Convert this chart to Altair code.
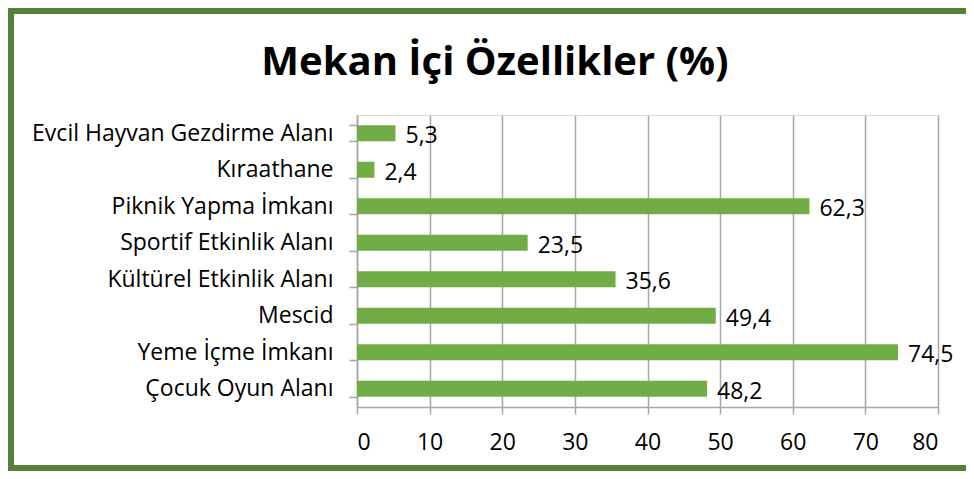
import altair as alt
import pandas as pd

categories = [
    "Evcil Hayvan Gezdirme Alanı",
    "Kıraathane",
    "Piknik Yapma İmkanı",
    "Sportif Etkinlik Alanı",
    "Kültürel Etkinlik Alanı",
    "Mescid",
    "Yeme İçme İmkanı",
    "Çocuk Oyun Alanı",
]
values = [5.3, 2.4, 62.3, 23.5, 35.6, 49.4, 74.5, 48.2]
x_ticks = [0, 10, 20, 30, 40, 50, 60, 70, 80]
title_text = "Mekan İçi Özellikler (%)"

df = pd.DataFrame({"cat": categories, "val": values})
df["lab"] = [f"{v:.1f}".replace(".", ",") for v in values]

FONT = "Open Sans"
FS = 23
BAR = "#70AD47"
BORDER = "#548235"
GRID = "#A6A6A6"

PL, PT, W, H = 349, 107, 581, 292
TOTW, TOTH = 958, 463

y_enc = alt.Y(
    "cat:N",
    sort=categories,
    title=None,
    scale=alt.Scale(paddingInner=0.56, paddingOuter=0.28),
    axis=alt.Axis(
        tickBand="extent",
        tickSize=8,
        tickColor=GRID,
        domainColor=GRID,
        domainWidth=1.5,
        tickWidth=1.5,
        labelPadding=16,
        labelLimit=0,
        labelFont=FONT,
        labelFontSize=FS,
        labelColor="#000000",
        grid=False,
    ),
)
x_enc = alt.X(
    "val:Q",
    title=None,
    scale=alt.Scale(domain=[0, 80], nice=False),
    axis=alt.Axis(
        values=x_ticks,
        tickSize=7,
        tickColor=GRID,
        domainColor=GRID,
        domainWidth=1.5,
        tickWidth=1.5,
        labelPadding=17,
        labelFont=FONT,
        labelFontSize=FS,
        labelColor="#000000",
        grid=True,
        gridColor=GRID,
        gridWidth=1.5,
    ),
)

base = alt.Chart(df)
bars = base.mark_bar(color=BAR).encode(y=y_enc, x=x_enc)
labels = base.mark_text(
    align="left", baseline="middle", dx=10, dy=3, font=FONT, fontSize=FS, color="#000000"
).encode(y=alt.Y("cat:N", sort=categories), x="val:Q", text="lab:N")

one = pd.DataFrame({"k": [0]})
frame = alt.Chart(one)
title_mark = frame.mark_text(
    align="center", baseline="alphabetic", font=FONT, fontSize=40, fontWeight="bold", color="#000000"
).encode(x=alt.value(138), y=alt.value(-40), text=alt.value(title_text))
left_b = frame.mark_rect(color=BORDER).encode(
    x=alt.value(-PL), x2=alt.value(-PL + 6), y=alt.value(-PT), y2=alt.value(TOTH - PT)
)
top_b = frame.mark_rect(color=BORDER).encode(
    x=alt.value(-PL), x2=alt.value(TOTW - PL + 10), y=alt.value(-PT), y2=alt.value(-PT + 6)
)
bot_b = frame.mark_rect(color=BORDER).encode(
    x=alt.value(-PL), x2=alt.value(TOTW - PL + 10), y=alt.value(TOTH - PT - 6), y2=alt.value(TOTH - PT)
)

chart = (
    alt.layer(bars, labels, title_mark, left_b, top_b, bot_b)
    .properties(
        width=W,
        height=H,
        autosize=alt.AutoSizeParams(type="none"),
        padding={"left": PL, "top": PT, "right": TOTW - PL - W, "bottom": TOTH - PT - H},
    )
    .configure_view(stroke=None)
    .configure(background="#FFFFFF")
)

chart.save("out.html", embed_options={"renderer": "svg", "actions": False})
